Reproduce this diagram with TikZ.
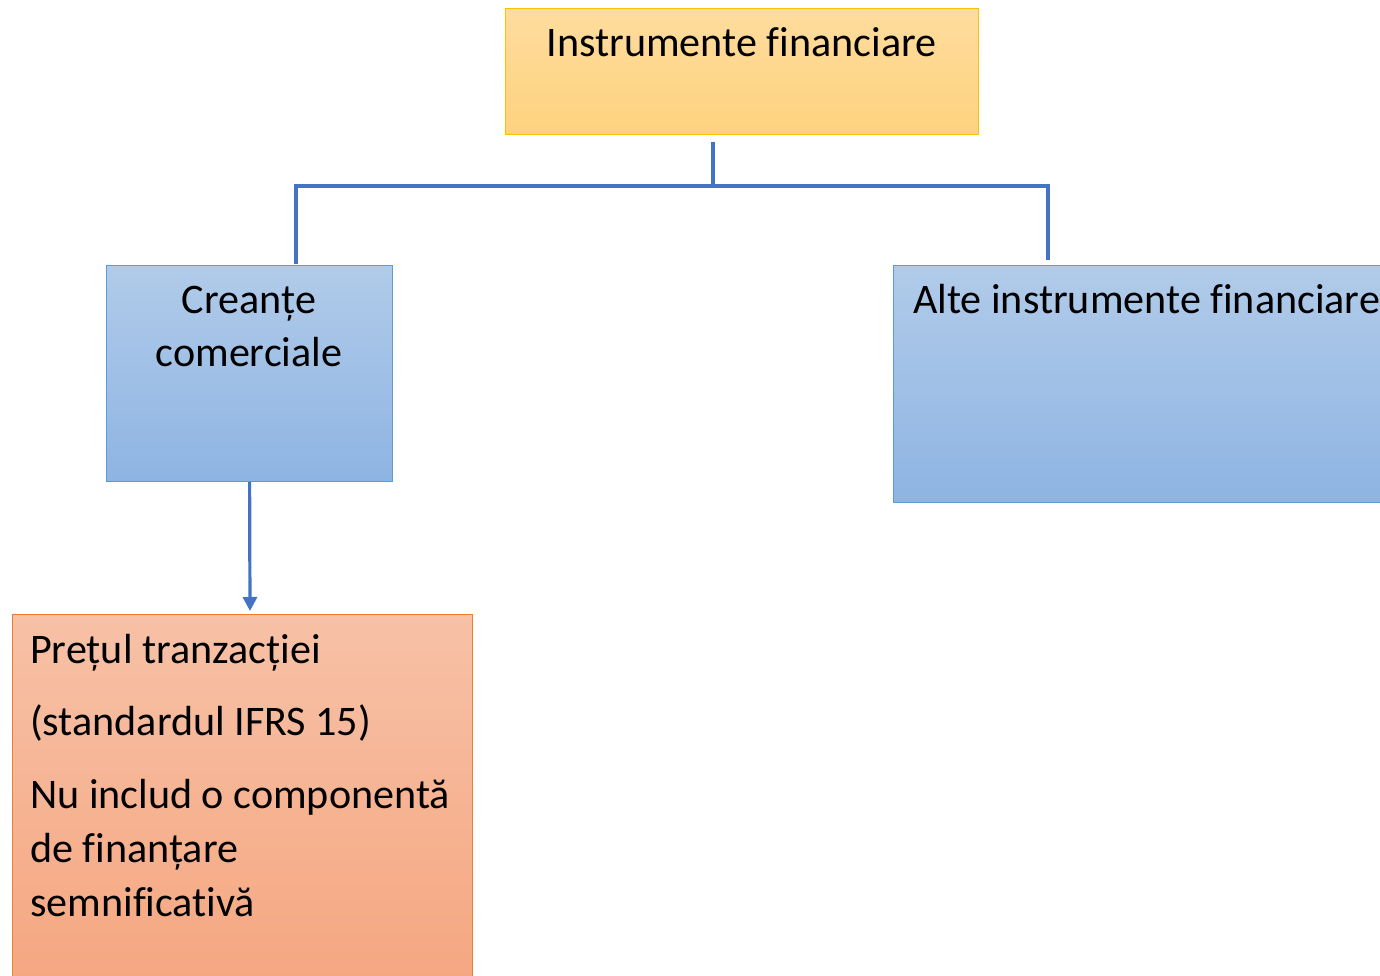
\documentclass[tikz,border=0pt]{standalone}
\usepackage{fontspec}
\setmainfont[Ligatures=NoCommon]{Carlito}
\usetikzlibrary{arrows.meta}
\definecolor{conn}{HTML}{4472C4}
\definecolor{ytop}{HTML}{FFDC9E}
\definecolor{ybot}{HTML}{FED27E}
\definecolor{yline}{HTML}{FFC000}
\definecolor{btop}{HTML}{B1CBE9}
\definecolor{bbot}{HTML}{8EB4E3}
\definecolor{bline}{HTML}{5B9BD5}
\definecolor{otop}{HTML}{F7C1A7}
\definecolor{obot}{HTML}{F5A67F}
\definecolor{oline}{HTML}{ED7D31}
\tikzset{
  boxbase/.style={rectangle, inner sep=0pt, anchor=north west, line width=1.2pt},
  ybox/.style={boxbase, draw=yline, top color=ytop, bottom color=ybot},
  bbox/.style={boxbase, draw=bline, top color=btop, bottom color=bbot},
  obox/.style={boxbase, draw=oline, top color=otop, bottom color=obot},
  txt/.style={font=\fontsize{42.1}{50}\selectfont, inner sep=0pt, text=black},
  conline/.style={draw=conn, line width=3.2pt},
}
\begin{document}
\begin{tikzpicture}[x=1pt,y=-1pt]
\useasboundingbox (0,0) rectangle (1380,976);
% boxes
\node[ybox, minimum width=473pt, minimum height=126pt] (top) at (505,8) {};
\node[bbox, minimum width=286pt, minimum height=216pt] (cre) at (106,265) {};
\node[bbox, minimum width=500pt, minimum height=237pt] (alte) at (893,265) {};
\node[obox, minimum width=460pt, minimum height=380pt] (pret) at (12,614) {};
% texts
\node[txt, anchor=base] (ttop) at (741.5,57) {Instrumente financiare};
\node[txt, anchor=base] (tcre1) at (249,313) {Creanțe};
\node[txt, anchor=base] (tcre2) at (249,366) {comerciale};
\node[txt, anchor=base west] (talte) at (913,313) {Alte instrumente financiare};
\node[txt, anchor=base west] (tp1) at (30,663) {Prețul tranzacției};
\node[txt, anchor=base west] (tp2) at (30,735) {(standardul IFRS 15)};
\node[txt, anchor=base west] (tp3) at (30,808) {Nu includ o componentă};
\node[txt, anchor=base west] (tp4) at (30,862) {de finanțare};
\node[txt, anchor=base west] (tp5) at (30,916) {semnificativă};
% connector points
\coordinate (s0) at (713,142);
\coordinate (j0) at (713,186);
\coordinate (jl) at (296,186);
\coordinate (jr) at (1048,186);
\coordinate (el) at (296,264);
\coordinate (er) at (1048,260);
\coordinate (ea) at (250,611);
% connectors
\draw[conline] (s0) -- (j0);
\draw[conline, line cap=rect] (jl) -- (jr);
\draw[conline] (jl) -- (el);
\draw[conline] (jr) -- (er);
\draw[conline, -{Triangle[width=14pt,length=14pt]}] (cre.south) -- (ea);
\end{tikzpicture}
\end{document}
